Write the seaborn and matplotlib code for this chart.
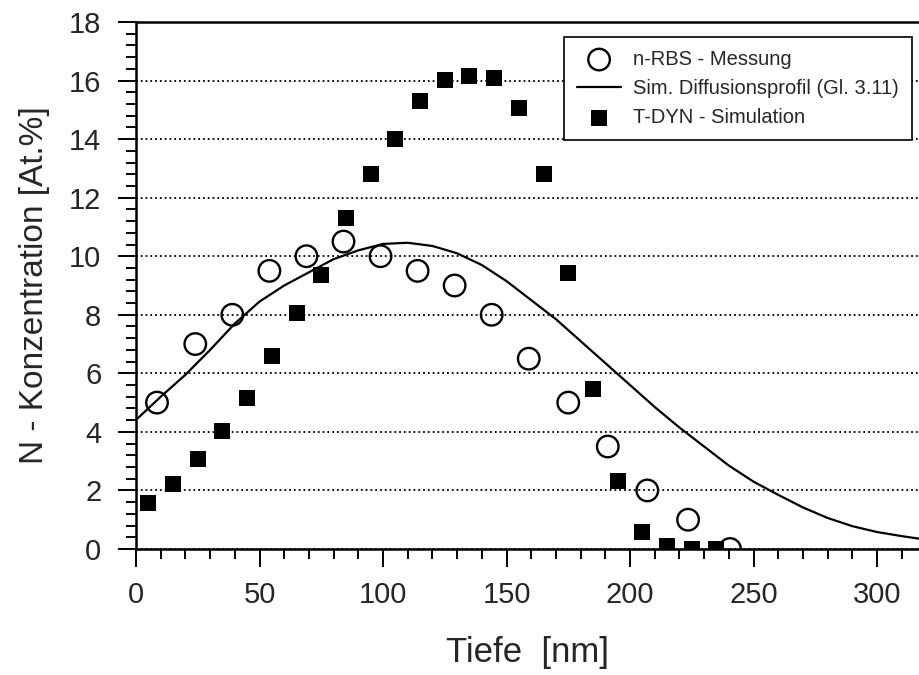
import matplotlib
matplotlib.use("Agg")
import matplotlib.pyplot as plt
import seaborn as sns
from matplotlib.ticker import MultipleLocator

# n-RBS Messung (open circles)
rbs_x = [8.5, 24, 39, 54, 69, 84, 99, 114, 129, 144, 159, 175, 191, 207, 223.5, 240.5]
rbs_y = [5, 7, 8, 9.5, 10, 10.5, 10, 9.5, 9, 8, 6.5, 5, 3.5, 2, 1, 0]

# T-DYN Simulation (filled squares)
tdyn_x = [5, 15, 25, 35, 45, 55, 65, 75, 85, 95, 105, 115,
          125, 135, 145, 155, 165, 175, 185, 195, 205, 215, 225, 235]
tdyn_y = [1.57, 2.22, 3.07, 4.03, 5.16, 6.59, 8.06, 9.36, 11.3, 12.8, 14.0, 15.3,
          16.02, 16.15, 16.09, 15.06, 12.8, 9.43, 5.46, 2.32, 0.58, 0.1, 0.0, 0.0]

# simulated diffusion profile
curve_x = [0, 10, 20, 30, 40, 50, 60, 70, 80, 90, 100, 110, 120, 130, 140, 150, 160,
           170, 180, 190, 200, 210, 220, 230, 240, 250, 260, 270, 280, 290, 300, 310, 318]
curve_y = [4.41, 5.2, 5.95, 6.8, 7.7, 8.45, 9.0, 9.45, 9.9, 10.2, 10.42, 10.46, 10.35,
           10.1, 9.7, 9.15, 8.5, 7.85, 7.1, 6.35, 5.6, 4.85, 4.15, 3.5, 2.85, 2.3, 1.85,
           1.42, 1.06, 0.78, 0.58, 0.44, 0.34]

sns.set_style("ticks")
plt.rcParams["font.family"] = ["Liberation Sans", "DejaVu Sans"]

fig = plt.figure(figsize=(9.2, 6.75), dpi=100)
ax = fig.add_axes([136 / 920, 1 - 549 / 675, 1 - 136 / 920, 527 / 675])

sns.scatterplot(x=rbs_x, y=rbs_y, ax=ax, marker="o", s=15.5 ** 2,
                facecolor="none", edgecolor="black", linewidth=1.7,
                label="n-RBS - Messung", zorder=3)
sns.lineplot(x=curve_x, y=curve_y, ax=ax, color="black", linewidth=1.6,
             label="Sim. Diffusionsprofil (Gl. 3.11)", zorder=4)
sns.scatterplot(x=tdyn_x, y=tdyn_y, ax=ax, marker="s", s=12 ** 2,
                color="black", linewidth=0, label="T-DYN - Simulation", zorder=5)

ax.set_xlim(0, 317.4)
ax.set_ylim(0, 18)
ax.xaxis.set_major_locator(MultipleLocator(50))
ax.xaxis.set_minor_locator(MultipleLocator(10))
ax.yaxis.set_major_locator(MultipleLocator(2))
ax.yaxis.set_minor_locator(MultipleLocator(0.4))

ax.yaxis.grid(True, which="major", linestyle=":", color="black", linewidth=1.3)
ax.xaxis.grid(False)
ax.set_axisbelow(True)

for side in ["left", "bottom", "top"]:
    ax.spines[side].set_linewidth(1.8)
    ax.spines[side].set_color("black")
ax.spines["right"].set_visible(False)

ax.tick_params(which="major", direction="out", length=13, width=1.4,
               color="black", labelsize=21, top=False, right=False)
ax.tick_params(which="minor", direction="out", length=7, width=1.4,
               color="black", top=False, right=False)
ax.tick_params(axis="x", which="major", pad=10)
ax.tick_params(axis="y", which="major", pad=12)

ax.set_xlabel("Tiefe  [nm]", fontsize=25)
ax.set_ylabel("N - Konzentration [At.%]", fontsize=24)
ax.xaxis.set_label_coords(0.5, -0.165)
ax.yaxis.set_label_coords(-0.11, 0.5)

leg = ax.legend(loc="upper right", bbox_to_anchor=(0.99, 0.972), borderaxespad=0,
                fontsize=14.5, frameon=True, fancybox=False, edgecolor="black",
                handlelength=2.2, handletextpad=0.6, labelspacing=0.5, borderpad=0.65)
leg.get_frame().set_linewidth(1.2)
leg.get_frame().set_alpha(1)

fig.savefig("out.png", dpi=100)
